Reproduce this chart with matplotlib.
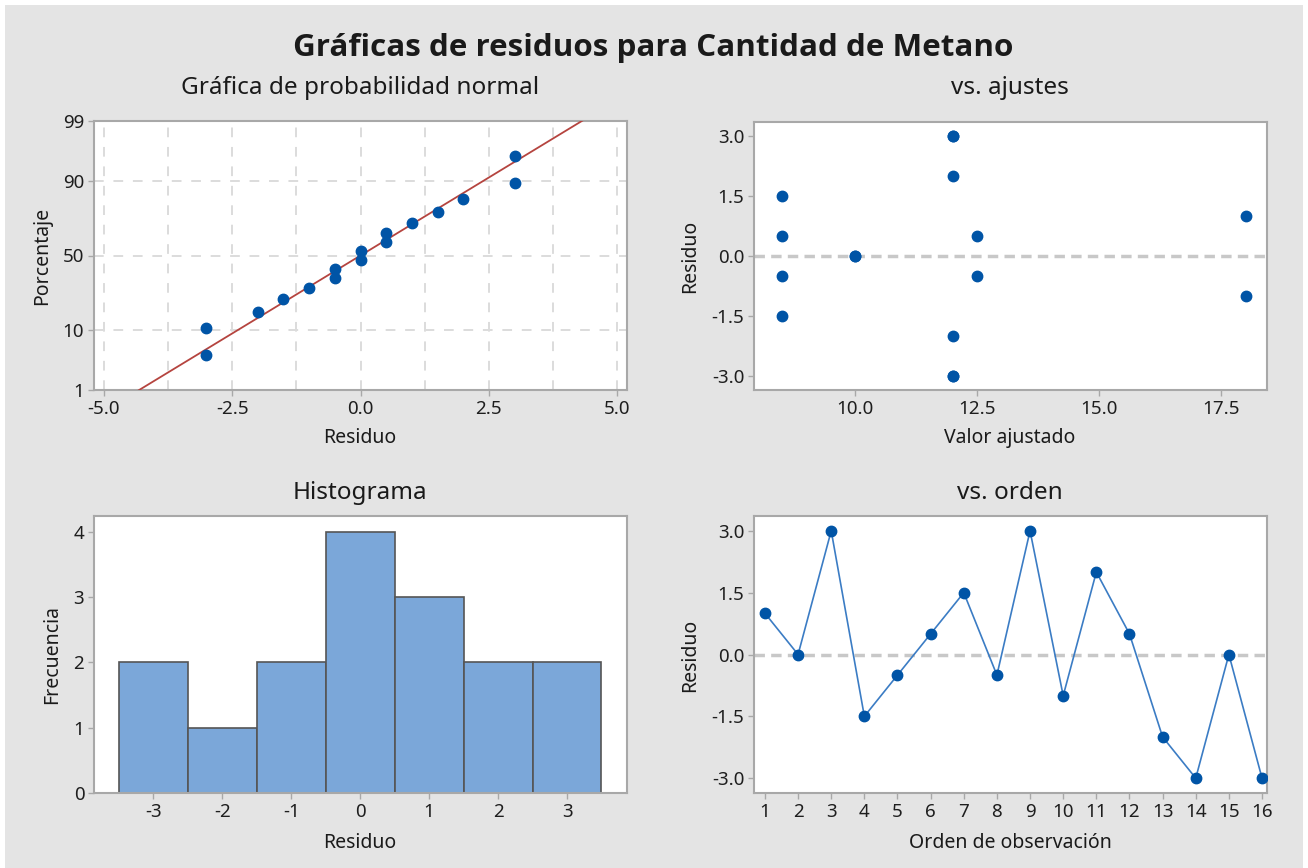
import numpy as np
import matplotlib
matplotlib.use("Agg")
import matplotlib.pyplot as plt
from matplotlib.patches import Rectangle
from matplotlib.ticker import NullLocator
from statistics import NormalDist

plt.rcParams['font.family'] = ['Noto Sans', 'DejaVu Sans']

# Residuals in observation order and the matching fitted values
orden = list(range(1, 17))
residuos = [1.0, 0.0, 3.0, -1.5, -0.5, 0.5, 1.5, -0.5, 3.0, -1.0, 2.0, 0.5, -2.0, -3.0, 0.0, -3.0]
ajustes = [18.0, 10.0, 12.0, 8.5, 8.5, 12.5, 8.5, 12.5, 12.0, 18.0, 12.0, 8.5, 12.0, 12.0, 10.0, 12.0]

# Histogram bins (centres -3..3, width 1)
bordes_hist = [-3.5, -2.5, -1.5, -0.5, 0.5, 1.5, 2.5, 3.5]
ticks_hist = [-3, -2, -1, 0, 1, 2, 3]
ticks_prob = [1, 10, 50, 90, 99]
ticks_res = [-3.0, -1.5, 0.0, 1.5, 3.0]
ticks_fit = [10.0, 12.5, 15.0, 17.5]

AZUL = '#0054a6'
LINEA = '#3b7cc4'
ROJO = '#b5443f'
BARRA = '#7ba7d9'
GRIS_REF = '#c8c8c8'
SPINE = '#a8a8a8'
FONDO = '#e4e4e4'

TICK_FS = 13.5
LABEL_FS = 14
SUB_FS = 17.5

W, H = 1308, 868
fig = plt.figure(figsize=(W / 100, H / 100), dpi=100, facecolor='white')
fig.patches.append(Rectangle((5 / W, 0), (W - 10) / W, (H - 5) / H,
                             transform=fig.transFigure, facecolor=FONDO,
                             edgecolor='none', zorder=-10))


def ax_px(l, r, t, b):
    return fig.add_axes([l / W, 1 - b / H, (r - l) / W, (b - t) / H])


def estilo(ax):
    for s in ax.spines.values():
        s.set_color(SPINE)
        s.set_linewidth(1.5)
    ax.tick_params(colors='#1e1e1e', labelsize=TICK_FS, length=4, width=1,
                   color=SPINE, pad=3)
    ax.set_facecolor('white')


def txt(x, y, s, **kw):
    fig.text(x / W, 1 - y / H, s, ha='center', va='center', color='#1a1a1a', **kw)


nd = NormalDist()
fwd = np.vectorize(lambda p: nd.inv_cdf(min(max(p / 100.0, 1e-9), 1 - 1e-9)), otypes=[float])
inv = np.vectorize(lambda z: 100.0 * nd.cdf(z), otypes=[float])

# --- Normal probability plot ---
ax1 = ax_px(94, 627, 121, 390)
estilo(ax1)
ax1.set_yscale('function', functions=(fwd, inv))
n = len(residuos)
orden_res = np.sort(residuos)
pct = [(i - 0.3) / (n + 0.4) * 100 for i in range(1, n + 1)]
media = np.mean(residuos)
desv = np.std(residuos, ddof=1)
xs = np.linspace(-6, 6, 400)
ps = inv((xs - media) / desv)
ax1.plot(xs, ps, color=ROJO, lw=1.3, zorder=3)
ax1.plot(orden_res, pct, 'o', color=AZUL, ms=7.5, zorder=4)
ax1.set_xlim(-5.19, 5.19)
ax1.set_ylim(1, 99)
ax1.set_yticks(ticks_prob)
ax1.set_yticklabels([str(t) for t in ticks_prob])
ax1.yaxis.set_minor_locator(NullLocator())
ax1.set_xticks([-5, -2.5, 0, 2.5, 5])
ax1.set_xticklabels(['-5.0', '-2.5', '0.0', '2.5', '5.0'])
for gx in np.arange(-5, 5.01, 1.25):
    ax1.axvline(gx, color='#dcdcdc', lw=1.4, ls=(0, (5, 5)), zorder=1)
for gy in [10, 50, 90]:
    ax1.axhline(gy, color='#dcdcdc', lw=1.4, ls=(0, (5, 5)), zorder=1)
txt(360, 88, 'Gráfica de probabilidad normal', fontsize=SUB_FS)
txt(360, 438, 'Residuo', fontsize=LABEL_FS)
txt(42, 256, 'Porcentaje', fontsize=LABEL_FS, rotation=90)

# --- Residuals vs fits ---
ax2 = ax_px(754, 1267, 122, 390)
estilo(ax2)
ax2.axhline(0, color=GRIS_REF, lw=2.5, ls=(0, (3, 1.8)), zorder=1)
ax2.plot(ajustes, residuos, 'o', color=AZUL, ms=7.5, zorder=3)
ax2.set_xlim(7.93, 18.44)
ax2.set_ylim(-3.36, 3.36)
ax2.set_xticks(ticks_fit)
ax2.set_xticklabels([f'{t:.1f}' for t in ticks_fit])
ax2.set_yticks(ticks_res)
ax2.set_yticklabels([f'{t:.1f}' for t in ticks_res])
txt(1010, 88, 'vs. ajustes', fontsize=SUB_FS)
txt(1010, 438, 'Valor ajustado', fontsize=LABEL_FS)
txt(690, 256, 'Residuo', fontsize=LABEL_FS, rotation=90)

# --- Histogram ---
ax3 = ax_px(94, 627, 516, 793)
estilo(ax3)
ax3.hist(residuos, bins=bordes_hist, color=BARRA, edgecolor='#555555', linewidth=1.2, zorder=2)
ax3.set_xlim(-3.86, 3.87)
ax3.set_ylim(0, 4.24)
ax3.set_xticks(ticks_hist)
ax3.set_xticklabels([str(t) for t in ticks_hist])
ax3.set_yticks([0, 1, 2, 3, 4])
txt(360, 493, 'Histograma', fontsize=SUB_FS)
txt(360, 843, 'Residuo', fontsize=LABEL_FS)
txt(52, 655, 'Frecuencia', fontsize=LABEL_FS, rotation=90)

# --- Residuals vs order ---
ax4 = ax_px(754, 1267, 516, 793)
estilo(ax4)
ax4.axhline(0, color=GRIS_REF, lw=2.5, ls=(0, (3, 1.8)), zorder=1)
ax4.plot(orden, residuos, '-', color=LINEA, lw=1.2, zorder=2)
ax4.plot(orden, residuos, 'o', color=AZUL, ms=7.5, zorder=3)
ax4.set_xlim(0.67, 16.15)
ax4.set_ylim(-3.36, 3.36)
ax4.set_xticks(orden)
ax4.set_yticks(ticks_res)
ax4.set_yticklabels([f'{t:.1f}' for t in ticks_res])
txt(1010, 493, 'vs. orden', fontsize=SUB_FS)
txt(1010, 843, 'Orden de observación', fontsize=LABEL_FS)
txt(690, 655, 'Residuo', fontsize=LABEL_FS, rotation=90)

txt(653, 48, 'Gráficas de residuos para Cantidad de Metano', fontsize=22.6,
    fontweight='bold', family=['Open Sans', 'DejaVu Sans'])

fig.savefig('out.png', dpi=100, facecolor='white')
